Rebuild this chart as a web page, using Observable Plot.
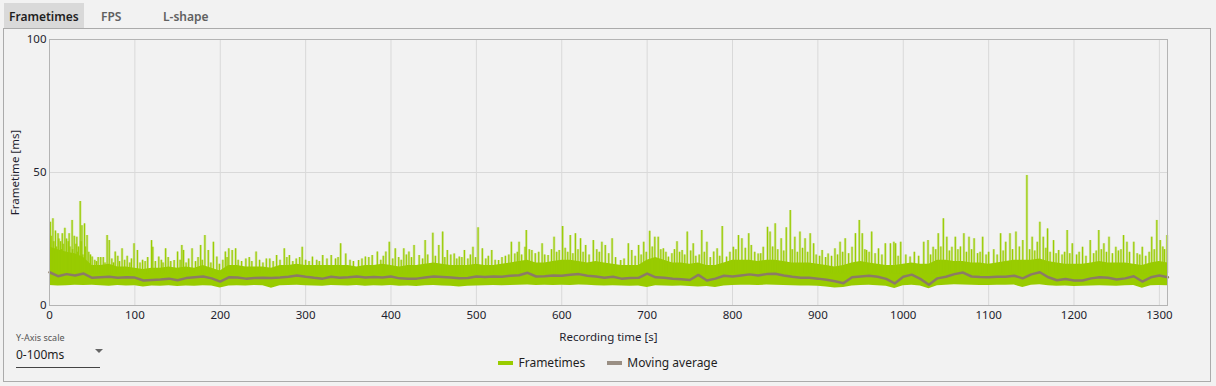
<!DOCTYPE html>
<html><head><meta charset="utf-8">
<script src="https://cdn.jsdelivr.net/npm/d3@7"></script>
<script src="https://cdn.jsdelivr.net/npm/@observablehq/plot@0.6"></script>
<style>
html,body{margin:0;padding:0;background:#f2f2f2;width:1216px;height:386px;overflow:hidden;font-family:"Noto Sans",sans-serif;}
#tabs{position:absolute;left:0;top:0;height:28px;width:1216px;}
.tab{position:absolute;top:3px;height:25px;line-height:27px;font-size:12px;font-weight:600;color:#606060;}
.tab.active{background:#d9d9d9;color:#1e1e1e;padding:0 5px;}
#panel{position:absolute;left:3px;top:28px;width:1208px;height:354px;border:1px solid #ababab;box-sizing:border-box;}
#chart{position:absolute;left:0;top:28px;}
#legend{position:absolute;top:354px;left:0;width:1216px;display:flex;justify-content:center;gap:22px;font-size:12px;color:#1e1e1e;}
.item{display:flex;align-items:center;gap:5px;}
.sw{width:15px;height:4px;}
#ysel{position:absolute;left:16px;top:331px;}
#ysel .lab{font-size:9px;color:#555;}
#ysel .val{position:absolute;top:15px;left:0;width:84px;font-size:12px;color:#1e1e1e;border-bottom:1px solid #444;height:21px;}
#ysel .arr{position:absolute;left:79px;top:3px;width:0;height:0;border-left:4px solid transparent;border-right:4px solid transparent;border-top:4px solid #666;}
</style></head>
<body>
<div id="tabs">
  <div class="tab active" style="left:4px;">Frametimes</div>
  <div class="tab" style="left:101px;">FPS</div>
  <div class="tab" style="left:163px;">L-shape</div>
</div>
<div id="panel"></div>
<div id="chart"></div>
<div id="ysel"><div class="lab">Y-Axis scale</div><div class="val">0-100ms<div class="arr"></div></div></div>
<div id="legend"></div>
<script>
// ---- data ----
const xTicks = [0,100,200,300,400,500,600,700,800,900,1000,1100,1200,1300];
const yTicks = [0,50,100];
const seriesNames = ["Frametimes","Moving average"];
// band sampled every 10 s (0..1310)
const bandStep = 10;
const ftHigh = [
 22,21,20,19.5,18,15,15,15.5,14.5,14.5,
 14,13.5,14,14,14.5,14,14.5,14,15,14,
 13,15,15,14.5,14.5,14.5,14,15,15,15.5,
 15,15,15,15,15,15,14.5,15,15,15.5,
 15,14.5,15,15,15.5,16,15.5,15,15,15,
 15.5,15,15,15.5,16,16.5,17,16,16,16.5,
 17,17,16.5,16,16.5,16,15.5,15,15,15,
 17,18,17,16,16,15.5,16,15,15,16,
 17,17,17,16.5,17,17,16.5,16,16,16,
 15.5,15,14.5,15,16,16.5,16,15.5,15,15,
 15.5,16,15.5,15.5,17,17,16.5,16.5,16,16,
 15.5,16,16.5,17,17,17,17.5,16.5,16,15.5,
 15.5,15.5,16,16.5,16,16,16,15.5,15,16,
 16.5,16];
const ftLow = [
 7.5,7.3,7.4,7.6,7.5,7.6,7.4,7.2,7.5,7.3,
 7.4,7.0,7.3,7.2,7.4,7.1,7.3,7.2,7.4,7.3,
 6.6,7.3,7.4,7.3,7.5,7.4,6.5,7.4,7.5,7.6,
 7.4,7.3,7.2,7.5,7.4,7.3,7.5,7.2,7.4,7.3,
 7.5,7.2,7.3,7.1,7.4,7.5,7.3,7.2,7.0,7.2,
 7.3,7.4,7.5,7.4,7.5,7.6,7.7,7.5,7.6,7.5,
 7.6,7.5,7.7,7.6,7.4,7.3,7.4,7.3,7.2,7.3,
 6.8,7.4,7.3,7.2,7.3,7.1,7.0,7.1,6.8,7.3,
 7.5,7.6,7.6,7.5,7.7,7.6,7.5,7.4,7.3,7.3,
 7.2,7.0,6.6,6.8,7.3,7.5,7.6,7.4,7.2,6.4,
 7.4,7.6,7.3,6.3,7.4,7.6,7.8,7.7,7.6,7.5,
 7.5,7.6,7.6,7.7,6.8,7.6,7.8,7.4,7.2,7.3,
 7.1,7.2,7.3,7.4,7.3,7.2,7.4,7.5,6.5,7.4,
 7.5,7.4];
const movingAvg = [
 12.5,11,11.8,11.3,12,10.4,10.6,10.8,10.4,10.6,
 10.5,9.4,9.6,9.8,10.1,9.5,10.3,10.6,10.9,10.2,
 9.0,10.6,10.5,10.1,10.3,10.4,10.3,10.5,10.8,11.3,
 10.8,10.4,10.1,10.8,10.4,10.6,10.9,10.5,10.7,10.5,
 10.9,10.2,10.1,10.1,10.5,10.9,10.7,10.5,10.2,10.3,
 10.9,10.7,10.9,10.8,11.2,11.4,12.3,10.9,11.0,11.3,
 11.2,11.6,11.8,11.2,10.9,10.4,10.8,10.1,10.3,10.4,
 12.0,10.6,10.4,10.1,9.9,9.6,11.5,9.4,10.1,11.2,
 10.9,11.3,11.7,11.3,11.8,11.9,11.3,10.8,10.4,10.4,
 10.1,9.7,9.1,8.4,10.6,10.9,11.2,10.8,10.0,8.3,
 10.8,11.6,10.0,7.8,10.2,10.8,11.8,12.4,10.9,10.7,
 10.6,10.8,10.8,11.2,10.2,11.7,12.5,10.6,9.5,10.0,
 9.4,9.4,10.2,10.6,10.4,9.8,10.2,11.0,9.0,10.6,
 11.3,10.6];
// individual frametime spikes (time s, frametime ms)
const spikeTime = [
 1,4,7,10,13,15,18,20,23,26.5,29,32,34,36,38,41,44,50,57,60,67.5,70,77,85,91,99,103,119.5,121,128,136,146,150,155,157,167,177,182,186,192,196,206,210,214,218,230,242,254,266,275,281,296,308,320,330,
 341,347,362,370,378,384,394,398,405,415,421,427,433,440,449,456,460.5,466,474,480,486,496,502,507,518,526,541,545,550,557,558.5,565,577,584,591,597,601,610,616,622,628,637,647,651,659,
 669,678,682,690,696,703,709,713,719,725,735,741,747,754,764,770,778,782,788,793,801,807,811,819,822,830,836,841,844,850,857,863,867.7,873,879,885,891,895,905,912,920,926,932,940,944,948.5,952,957,963,971,979,985,989,
 991,997,1008,1024,1029,1035,1041,1047,1051,1057,1061,1071,1077,1083,1093,1100,1106,1110,1114,1120,1125,1132,1140,1144.8,1151,1157,1160,1164,1169,1176,1182,1192,1198,1210,1219,1229,1235,1241,1249,1258,1262,1270,1280,1291,1297,1301,1309];
const spikeMs = [
 31.3,32.6,28,27,24,27,29,25,27,32,26,25.7,22,39.1,30,30.7,26.3,18.2,18,18,26.3,24.4,20.1,21.3,18.5,23.2,20.7,24.4,21.9,18.2,21.3,16.9,20.1,22.6,20.7,21.3,22.6,26.3,20.7,23.8,18.2,20.1,21.3,20.7,21.3,17.5,20.1,17.5,18.8,21.3,18.8,21.9,18.2,18.8,18.8,
 23.2,19.4,16.9,18.2,18.8,20.1,20.1,23.8,21.3,21.3,20.1,22.6,18.8,24.4,27.2,22.6,27.6,20.7,19.4,18.2,20.7,21.9,29.2,21.3,20.7,16.9,23.8,19.4,23.8,21.9,28.2,20.7,23.2,18.8,25.7,20.7,29.7,26.3,27,25.1,22.6,24.4,23.8,22.6,25.1,
 16.9,23.2,20.7,22.6,23.8,27.9,25.7,25.7,21.3,18.2,24,20.7,27.6,23.2,28.2,23.8,20.1,21.3,29.7,18.2,21.9,26.3,25.1,27,22.6,19.4,21.9,29.4,27.6,30.7,25.1,29.2,35.7,25.7,27.6,25.1,27,23.2,20.7,19.4,21.3,23.8,25.1,21.9,27,32,27,20.7,27.6,21.3,23.2,23.2,23.8,
 23.2,23.8,18.2,23.8,24.4,21.9,27,32.6,25.7,21.9,25.7,27,25.7,25.1,25.7,20,21,19,27,23.8,27,27.6,24.4,48.9,25.7,23.8,31.3,25.7,28.8,24.4,20.7,28.2,23.2,21.9,24.4,28.2,23.2,25.7,21.9,26.3,23.8,23.8,21.9,25.7,32,24.4,26.3];
// smaller frametime peaks just above the dense band (time s, frametime ms)
const minorTime = [
 2,5,8,11,14,16,19,22,24,27,31,33,37,39,42,46,48,
 53,55,63,65,73,75,80,82,88,94,96,106,109,112,115,124,131,133,139,142,153,160,163,171,174,179,189,199,203,208,221,225,234,237,246,250,258,262,270,278,285,289,293,300,304,313,316,325,
 335,338,352,356,366,374,388,391,402,409,412,418,424,437,443,452,463,470,477,483,490,493,499,511,514,522,530,534,538,
 548,553,562,569,573,580,588,594,604,607,613,619,625,632,641,644,655,663,673,686,693,699,
 706,716,722,729,732,738,744,751,757,761,767,774,785,797,804,815,826,833,847,853,860,870,876,882,888,898,902,909,916,923,929,936,955,960,967,975,994,
 1003,1013,1018,1032,1038,1044,1054,1064,1067,1074,1080,1087,1090,1097,1117,1128,1136,1148,1154,1167,1172,1179,1186,1189,1195,1203,1206,1214,1223,1226,1232,1238,1245,1252,1255,1265,1274,1277,1284,1288,1294,1304,1306];
const minorMs = [
 26,24,22,25,21,23,20,24,22,21,23,20,24,19,22,20,19,
 17,16.5,18,16,17.5,16,18.5,16.5,17,16,17.5,16,17,16.5,18,16.5,17,16,18,16.5,17,16,17.5,16.5,18,17,16,15.5,17,18,17,16.5,18,16.5,17,16,17.5,16.5,17,18,16.5,17.5,18,17,16.5,17,16.5,17.5,
 17.5,18,17,16.5,17.5,18,17,18.5,17.5,18,17,19,18,17.5,19,18.5,18,19,17.5,18,17.5,19,18,17.5,18.5,17,18,18.5,19,
 20,19,21,19.5,20,19,21,20,21.5,20,19.5,21,20,19,21,20,19.5,18,17.5,18.5,19,20,
 22,21,20,19.5,21,20,19,20.5,18.5,19,20,18,18.5,20,21,21.5,20,19.5,22,21,20.5,21,20,21.5,20,19,18.5,18,18.5,19,20,19.5,21,20,19.5,19,18.5,
 19,20,18.5,19,21,22,20.5,21,22,20,21,19.5,20,19,20.5,21,22,21,20.5,21.5,20,19.5,19,20,19.5,19,20,18.5,19.5,20.5,21,20,19.5,20.5,21,20,19.5,19,18.5,20,21,22,21];

// ---- build tables ----
const band = ftHigh.map((h, i) => ({t: i * bandStep, lo: ftLow[i], hi: h, ma: movingAvg[i]}));
const spikes = spikeTime.map((t, i) => ({t, ms: spikeMs[i]}))
  .concat(minorTime.map((t, i) => ({t, ms: minorMs[i]})));

const green = "#99cc00", avgColor = "#8c7b66";
const fmt = d3.format("d");

const chart = Plot.plot({
  width: 1216, height: 318,
  marginTop: 11, marginBottom: 41, marginLeft: 49, marginRight: 49,
  style: {background: "transparent", fontSize: "11.5px", fontFamily: "Noto Sans, sans-serif", color: "#1e1e2e", overflow: "visible"},
  x: {domain: [0, 1309.5]},
  y: {domain: [0, 100]},
  marks: [
    Plot.gridX(xTicks, {stroke: "#d9d9d9", strokeOpacity: 1}),
    Plot.gridY([50], {stroke: "#d9d9d9", strokeOpacity: 1}),
    Plot.areaY(band, {x: "t", y1: "lo", y2: "hi", fill: green}),
    Plot.ruleX(spikes, {x: "t", y1: 12, y2: "ms", stroke: green, strokeWidth: 2.6, strokeOpacity: 0.35}),
    Plot.ruleX(spikes, {x: "t", y1: 12, y2: "ms", stroke: green, strokeWidth: 1.1}),
    Plot.line(band, {x: "t", y: "ma", stroke: avgColor, strokeWidth: 2.5}),
    Plot.frame({stroke: "#b4b4b4"}),
    Plot.axisX(xTicks, {tickSize: 0, tickPadding: 5, tickFormat: fmt, label: "Recording time [s]", labelAnchor: "center", labelArrow: "none", labelOffset: 35}),
    Plot.axisY(yTicks, {tickSize: 0, tickPadding: 3, tickFormat: fmt, label: "Frametime [ms]", labelAnchor: "center", labelArrow: "none", labelOffset: 39})
  ]
});
document.getElementById("chart").appendChild(chart);

const legend = document.getElementById("legend");
[green, "#9a8f84"].forEach((c, i) => {
  const it = document.createElement("div"); it.className = "item";
  const sw = document.createElement("div"); sw.className = "sw"; sw.style.background = c;
  const tx = document.createElement("span"); tx.textContent = seriesNames[i];
  it.appendChild(sw); it.appendChild(tx); legend.appendChild(it);
});
</script>
</body></html>
